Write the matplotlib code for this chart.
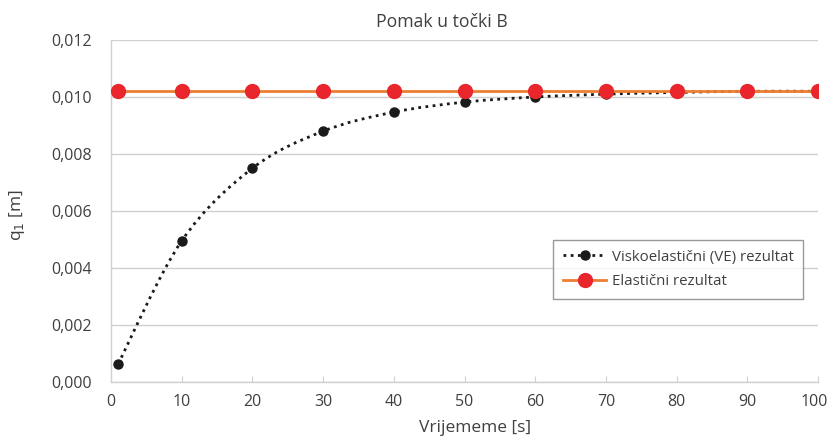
import matplotlib
matplotlib.use("Agg")
import matplotlib.pyplot as plt
import matplotlib.transforms as mtransforms
from matplotlib.path import Path
from matplotlib.patches import PathPatch
from matplotlib.lines import Line2D
from matplotlib.ticker import FuncFormatter, MultipleLocator
import numpy as np

plt.rcParams['font.family'] = ['Open Sans', 'DejaVu Sans']

time_s = [1, 10, 20, 30, 40, 50, 60, 70, 80, 90, 100]
ve_result = [0.00063, 0.00495, 0.0075, 0.0088, 0.00947, 0.00982, 0.0100, 0.01010, 0.01016, 0.0102, 0.0102]
elastic_result = [0.0102] * 11
x_ticks = [0, 10, 20, 30, 40, 50, 60, 70, 80, 90, 100]

title = "Pomak u točki B"
xlabel = "Vrijememe [s]"
ylabel = "q$_1$ [m]"
ve_label = "Viskoelastični (VE) rezultat"
el_label = "Elastični rezultat"

text_col = "#404040"
grid_col = "#d0d0d0"

W, H = 830, 437
fig = plt.figure(figsize=(8.3, 4.37), dpi=100)
ax_l, ax_r, ax_b, ax_t = 111, 818, 382, 40
ax = fig.add_axes([ax_l / W, 1 - ax_b / H, (ax_r - ax_l) / W, (ax_b - ax_t) / H])

# smooth curve (Catmull-Rom -> cubic Bezier) through VE data
pts = np.column_stack([time_s, ve_result])
verts = [tuple(pts[0])]
codes = [Path.MOVETO]
n = len(pts)
for i in range(n - 1):
    p0 = pts[i - 1] if i > 0 else pts[i]
    p1 = pts[i]
    p2 = pts[i + 1]
    p3 = pts[i + 2] if i + 2 < n else pts[i + 1]
    c1 = p1 + (p2 - p0) / 6.0
    c2 = p2 - (p3 - p1) / 6.0
    verts += [tuple(c1), tuple(c2), tuple(p2)]
    codes += [Path.CURVE4] * 3
curve = PathPatch(Path(verts, codes), facecolor='none', edgecolor='#1a1a1a',
                  linewidth=2.0, linestyle=(0, (1, 1.6)), zorder=3)
ax.add_patch(curve)
ax.plot(time_s, ve_result, linestyle='none', marker='o', markersize=6.5,
        color='#1a1a1a', zorder=4)

ax.plot(time_s, elastic_result, color='#ed7d31', linewidth=2.0, zorder=5)
ax.plot(time_s, elastic_result, linestyle='none', marker='o', markersize=10,
        color='#e8262b', zorder=6)

ax.set_xlim(0, 100)
ax.set_ylim(0, 0.012)
ax.set_xticks(x_ticks)
ax.yaxis.set_major_locator(MultipleLocator(0.002))
ax.yaxis.set_major_formatter(FuncFormatter(lambda v, p: f"{v:.3f}".replace('.', ',')))

ax.grid(axis='y', color=grid_col, linewidth=1.0)
ax.set_axisbelow(True)
for s in ['top', 'right']:
    ax.spines[s].set_visible(False)
for s in ['left', 'bottom']:
    ax.spines[s].set_color(grid_col)
    ax.spines[s].set_linewidth(1.0)
ax.tick_params(axis='x', direction='in', length=4, color=grid_col, labelsize=11.5,
               labelcolor=text_col, pad=9)
ax.tick_params(axis='y', length=0, labelsize=11.5, labelcolor=text_col, pad=14)

fig.text(442 / W, 1 - 22 / H, title, fontsize=12.7, color=text_col,
         ha='center', va='center')
ax.set_xlabel(xlabel, fontsize=12.5, color=text_col)
ax.xaxis.set_label_coords((475 - ax_l) / (ax_r - ax_l), -(428 - ax_b) / (ax_b - ax_t))
ax.xaxis.label.set_va('center')
ax.set_ylabel(ylabel, fontsize=12.5, color=text_col)
ax.yaxis.set_label_coords(-(ax_l - 17) / (ax_r - ax_l), (ax_b - 215) / (ax_b - ax_t))
ax.yaxis.label.set_va('center')

h1 = Line2D([], [], color='#1a1a1a', linewidth=2.0, linestyle=(0, (1, 1.6)),
            marker='o', markersize=6.5)
h2 = Line2D([], [], color='#ed7d31', linewidth=2.0, marker='o', markersize=10,
            markerfacecolor='#e8262b', markeredgecolor='#e8262b')
leg = ax.legend([h1, h2], [ve_label, el_label], loc='upper left',
                bbox_to_anchor=((553 - ax_l) / (ax_r - ax_l), (ax_b - 240) / (ax_b - ax_t)),
                fontsize=10.8, frameon=True,
                fancybox=False, edgecolor='#808080', handlelength=2.9,
                handletextpad=0.35, borderpad=0.65, borderaxespad=0,
                labelspacing=0.65, labelcolor=text_col)
leg.get_frame().set_linewidth(1.0)

# keep the last x tick label inside the canvas: right-align it near the edge
last_tick = ax.xaxis.get_major_ticks()[-1]
last_tick.label1.set_horizontalalignment('right')
last_tick.label1.set_transform(last_tick.label1.get_transform() +
                               mtransforms.ScaledTranslation(10 / 100, 0, fig.dpi_scale_trans))

fig.savefig("out.png", dpi=100)
